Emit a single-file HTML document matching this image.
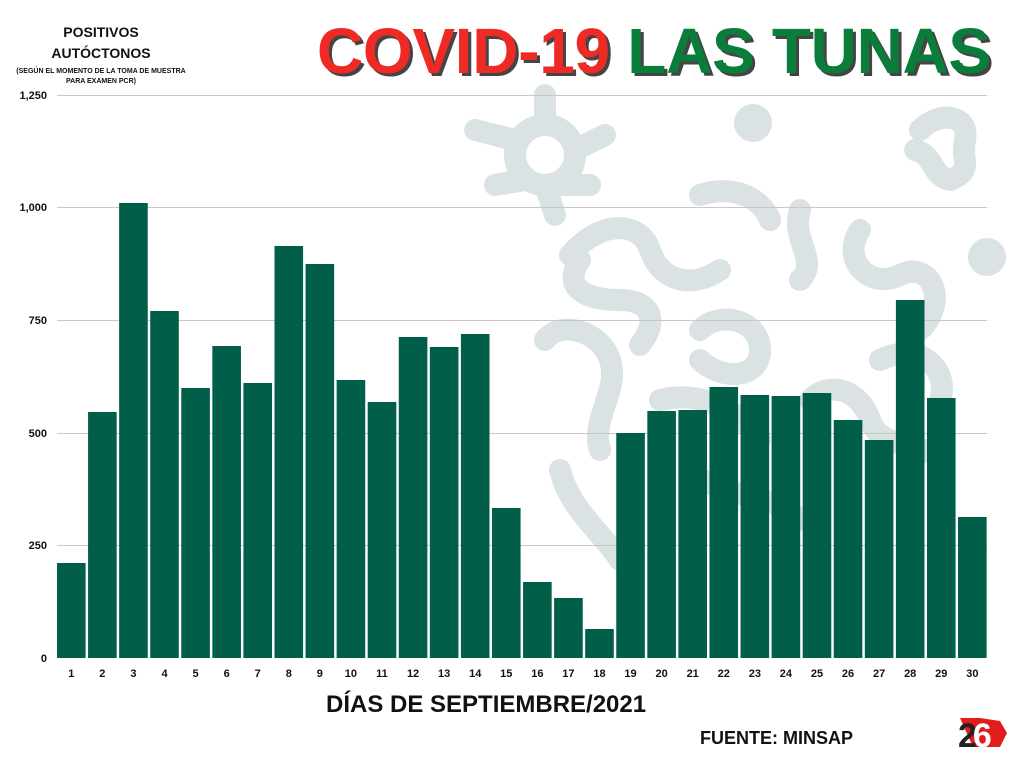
<!DOCTYPE html>
<html><head><meta charset="utf-8"><style>
body{margin:0;width:1024px;height:768px;background:#fff;position:relative;overflow:hidden;font-family:"Liberation Sans",sans-serif}
.t{position:absolute;font-weight:bold;white-space:nowrap}
</style></head><body>
<svg width="1024" height="768" style="position:absolute;left:0;top:0">
<g stroke="#dbe2e4" stroke-width="22" fill="none" stroke-linecap="round" stroke-linejoin="round">
<circle cx="545" cy="155" r="30"/>
<path d="M545 125V95M515 140L475 130M575 150L605 135M560 185L590 185M525 180L495 185M545 185L555 215"/>
<circle cx="753" cy="123" r="8" fill="#dbe2e4"/>
<circle cx="987" cy="257" r="8" fill="#dbe2e4"/>
<path d="M920 130C940 110 970 115 965 140C960 160 975 170 950 180C930 175 935 155 915 150"/>
<path d="M570 255C600 220 640 220 650 250C660 280 690 290 720 270"/>
<path d="M700 195C730 185 760 195 770 220M800 210C790 240 820 260 800 280"/>
<path d="M580 260C560 290 590 300 620 300C650 300 660 320 640 345"/>
<path d="M860 230C840 260 870 290 900 275C930 260 950 300 920 330"/>
<path d="M545 340C560 320 600 330 610 360C620 390 590 420 600 450"/>
<path d="M700 330C720 310 760 320 760 350C760 380 720 380 700 360"/>
<path d="M810 400C830 380 860 390 870 420C880 450 920 440 940 460"/>
<path d="M660 400C700 390 740 410 760 440M560 470C570 510 600 530 620 560"/>
<path d="M880 360C920 340 950 370 940 400M690 470C720 500 770 490 800 520"/>
</g>
<g stroke="#c8c8c8" stroke-width="1">
<line x1="57" x2="987" y1="95.5" y2="95.5"/><line x1="57" x2="987" y1="207.5" y2="207.5"/>
<line x1="57" x2="987" y1="320.5" y2="320.5"/><line x1="57" x2="987" y1="433.5" y2="433.5"/>
<line x1="57" x2="987" y1="545.5" y2="545.5"/>
</g>
<g fill="#005e49" id="bars"></g>
<g font-family="Liberation Sans" font-weight="bold" font-size="11" fill="#111" text-anchor="end">
<text x="47" y="99">1,250</text><text x="47" y="211">1,000</text><text x="47" y="324">750</text>
<text x="47" y="437">500</text><text x="47" y="549">250</text><text x="47" y="662">0</text>
</g>
<g id="xl" font-family="Liberation Sans" font-weight="bold" font-size="11" fill="#111" text-anchor="middle"></g>
<path d="M960 718h20l20 3 7 12-7 14h-27z" fill="#e21b1b"/>
<text x="958" y="747" font-family="Liberation Sans" font-weight="bold" font-size="34" fill="#222" letter-spacing="-4">2<tspan fill="#fff">6</tspan></text>
</svg>
<script>
var tops=[563,412,203,311,388,346,383,246,264,380,402,337,347,334,508,582,598,629,433,411,410,387,395,396,393,420,440,300,398,517];
var b='',l='';
tops.forEach(function(t,i){var x=57+i*31.07;b+='<rect x="'+x+'" y="'+t+'" width="28.6" height="'+(658-t)+'"/>';l+='<text x="'+(x+14.3)+'" y="677">'+(i+1)+'</text>';});
document.getElementById('bars').innerHTML=b;document.getElementById('xl').innerHTML=l;
</script>
<div class="t" style="left:0;width:202px;text-align:center;top:22px;font-size:14px;line-height:21px;color:#111">POSITIVOS<br>AUTÓCTONOS</div>
<div class="t" style="left:0;width:202px;text-align:center;top:67px;font-size:7px;line-height:10px;color:#111">(SEGÚN EL MOMENTO DE LA TOMA DE MUESTRA<br>PARA EXAMEN PCR)</div>
<div class="t" style="left:317px;top:14px;font-size:64px;letter-spacing:-0.3px;text-shadow:3px 3px 0 #444"><span style="color:#ee2a24">COVID-19</span> <span style="color:#0b7d3b">LAS TUNAS</span></div>
<div class="t" style="left:326px;top:691px;font-size:24px;color:#111">DÍAS DE SEPTIEMBRE/2021</div>
<div class="t" style="left:700px;top:728px;font-size:18px;color:#111">FUENTE: MINSAP</div>
</body></html>
